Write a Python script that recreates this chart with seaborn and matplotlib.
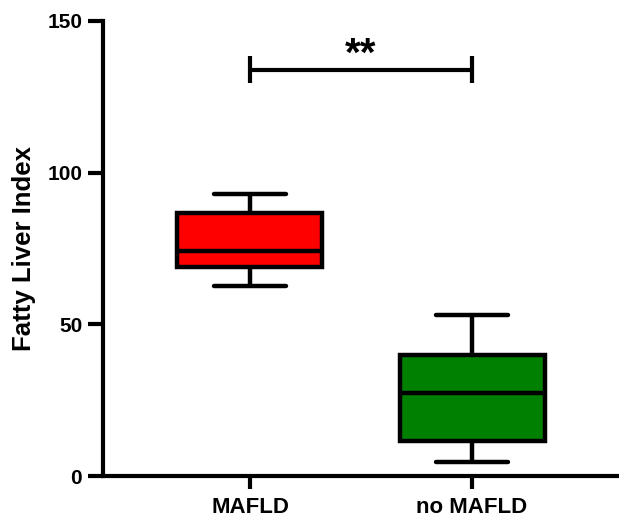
import matplotlib
matplotlib.use("Agg")
import matplotlib.pyplot as plt
import seaborn as sns
import pandas as pd

# Data (five-number summaries: min, Q1, median, Q3, max)
categories = ["MAFLD", "no MAFLD"]
mafld_values = [62.6, 68.9, 74.2, 86.7, 93.0]
no_mafld_values = [4.5, 11.6, 27.3, 39.9, 53.2]
box_colors = ["#FF0000", "#008000"]
y_ticks = [0, 50, 100, 150]
y_label = "Fatty Liver Index"
signif_text = "**"
bracket_y = 134.0
bracket_tick = 4.3

sns.set_theme(style="ticks")
plt.rcParams["font.family"] = ["Liberation Sans", "DejaVu Sans"]
plt.rcParams["font.weight"] = "bold"
plt.rcParams["text.color"] = "black"
plt.rcParams["axes.labelcolor"] = "black"

df = pd.DataFrame({
    "group": [categories[0]] * len(mafld_values) + [categories[1]] * len(no_mafld_values),
    "value": mafld_values + no_mafld_values,
})

fig = plt.figure(figsize=(6.19, 5.2), dpi=100)
ax = fig.add_axes([103 / 619, (520 - 476) / 520, (617 - 103) / 619, (476 - 21) / 520])

sns.boxplot(data=df, x="group", y="value", hue="group", palette=box_colors,
            order=categories, hue_order=categories, dodge=False, legend=False,
            whis=(0, 100), width=0.653, linecolor="black", linewidth=3.2,
            saturation=1, fliersize=0, ax=ax)

ax.set_xlim(-0.662, 1.653)
ax.set_ylim(0, 150)
ax.set_yticks(y_ticks)
ax.set_xlabel("")
ax.set_ylabel(y_label, fontsize=18.5, fontweight="bold", labelpad=8, color="black")

for s in ["top", "right"]:
    ax.spines[s].set_visible(False)
for s in ["left", "bottom"]:
    ax.spines[s].set_linewidth(3.0)
    ax.spines[s].set_color("black")

ax.tick_params(axis="y", length=11, width=3, labelsize=15, pad=4, colors="black")
ax.tick_params(axis="x", length=9, width=3, labelsize=16, pad=6, colors="black")
for lab in ax.get_xticklabels() + ax.get_yticklabels():
    lab.set_fontweight("bold")

# significance bracket
ax.plot([0, 1], [bracket_y, bracket_y], color="black", lw=3, solid_capstyle="butt", clip_on=False)
for xx in [0, 1]:
    ax.plot([xx, xx], [bracket_y - bracket_tick, bracket_y + bracket_tick], color="black", lw=3,
            solid_capstyle="butt", clip_on=False)
ax.text(0.5, 135.3, signif_text, ha="center", va="baseline", fontsize=29,
        fontweight="bold", color="black")

fig.savefig("out.png", dpi=100)
